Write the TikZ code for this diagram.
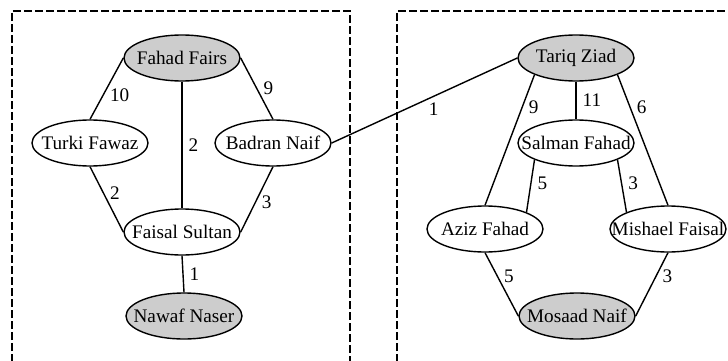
\documentclass[tikz,border=0pt]{standalone}
\usepackage{fontspec}
\setmainfont{Liberation Serif}
\usetikzlibrary{shapes.geometric}
\definecolor{nodegray}{RGB}{205,205,205}

\begin{document}
\begin{tikzpicture}[x=0.5pt,y=0.5pt,
    person/.style={ellipse,draw,line width=0.7pt,minimum width=58pt,minimum height=23pt,
      inner sep=0pt,font=\fontsize{9.6}{11}\selectfont},
    leader/.style={person,fill=nodegray},
    wt/.style={font=\fontsize{9.6}{11}\selectfont,inner sep=3pt},
    link/.style={line width=0.7pt},
    group/.style={line width=1pt,dash pattern=on 4pt off 1.5pt}]
  \useasboundingbox (0,0) rectangle (728,360);
  % groups
  \draw[group] (12,-2) -- (12,349) -- (350,349) -- (350,-2);
  \draw[group] (397,-2) -- (397,349) -- (732,349);
  % left group
  \node[leader] (ff) at (182,302) {\makebox[0pt]{Fahad Fairs}};
  \node[person] (tf) at (90,217) {\makebox[0pt]{Turki Fawaz}};
  \node[person] (bn) at (273,217) {\makebox[0pt]{Badran Naif}};
  \node[person] (fs) at (182,128) {\makebox[0pt]{Faisal Sultan}};
  \node[leader] (nn) at (184,44) {\makebox[0pt]{Nawaf Naser}};
  % right group
  \node[leader] (tz) at (576,302) {\makebox[0pt]{Tariq Ziad}};
  \node[person] (sf) at (576,217) {\makebox[0pt]{Salman Fahad}};
  \node[person] (af) at (485,131) {\makebox[0pt]{Aziz Fahad}};
  \node[person] (mf) at (668,131) {\makebox[0pt]{Mishael Faisal}};
  \node[leader] (mn) at (577,44) {\makebox[0pt]{Mosaad Naif}};
  % weighted links
  \draw[link] (ff.west) -- (tf.north) node[wt,pos=0.6,right]{10};
  \draw[link] (ff.south) -- (fs.north) node[wt,pos=0.5,right]{2};
  \draw[link] (ff.east) -- (bn.north) node[wt,pos=0.5,right]{9};
  \draw[link] (tf.south) -- (fs.west) node[wt,pos=0.4,right]{2};
  \draw[link] (bn.south) -- (fs.east) node[wt,pos=0.55,right]{3};
  \draw[link] (fs.south) -- (nn.north) node[wt,pos=0.5,right]{1};
  \draw[link] (bn.east) -- (tz.west) node[wt,pos=0.55,below]{1};
  \draw[link] (tz.south west) -- (af.north) node[wt,pos=0.25,right]{9};
  \draw[link] (tz.south) -- (sf.north) node[wt,pos=0.5,right]{11};
  \draw[link] (tz.south east) -- (mf.north) node[wt,pos=0.25,right]{6};
  \draw[link] (sf.south west) -- (af.north east) node[wt,pos=0.45,right]{5};
  \draw[link] (sf.south east) -- (mf.north west) node[wt,pos=0.45,right]{3};
  \draw[link] (af.south) -- (mn.west) node[wt,pos=0.375,right]{5};
  \draw[link] (mf.south) -- (mn.east) node[wt,pos=0.375,right]{3};
\end{tikzpicture}
\end{document}
